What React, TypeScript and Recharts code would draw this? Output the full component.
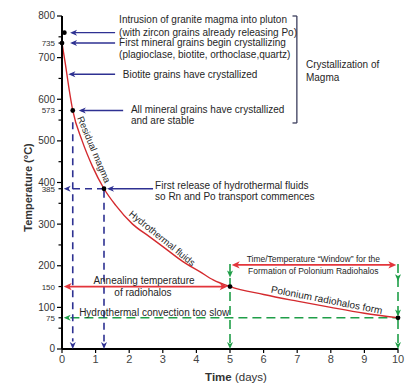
import { ComposedChart, Line, XAxis, YAxis, ReferenceLine, ReferenceDot, Label } from "recharts";

// cooling curve
const days = [0, 0.1, 0.2, 0.32, 0.6, 0.9, 1.25, 1.6, 2.1, 2.6, 3.1, 3.6, 4.1, 4.5, 5, 6, 7, 8, 9, 10];
const temps = [735, 685, 630, 573, 500, 440, 385, 345, 300, 270, 240, 210, 186, 166, 150, 131, 115, 100, 86, 75];

const dayTicks = [0, 1, 2, 3, 4, 5, 6, 7, 8, 9, 10];
const majorTemps = [0, 100, 200, 300, 400, 500, 600, 700, 800];
const minorTemps = [50, 150, 250, 350, 450, 550, 650, 750];
const markedTemps = [735, 573, 385, 150, 75];

// black dots on the curve / axis
const eventDays = [0.07, 0, 0.32, 1.25, 5, 10];
const eventTemps = [760, 735, 573, 385, 150, 75];

const NAVY = "#2e3192";
const RED = "#e3353b";
const CURVE = "#d42a2e";
const GREEN = "#1f9e48";
const INK = "#262626";
const FONT = "'Liberation Sans', Arial, sans-serif";

const curveData = days.map((t, i) => ({ t, temp: temps[i] }));
const yTicks = Array.from(new Set([...majorTemps, ...minorTemps, ...markedTemps])).sort((a, b) => a - b);

function TempTick(props: any) {
  const { x, y, payload } = props;
  const v = payload.value;
  const axisX = x + 7;
  const major = majorTemps.includes(v);
  const marked = markedTemps.includes(v);
  const len = major ? 5 : 3.5;
  return (
    <g>
      <line x1={axisX - len} x2={axisX} y1={y} y2={y} stroke="#000" strokeWidth={1.2} />
      {major && (
        <text x={x} y={y} dy={3.4} textAnchor="end" fontSize={10} fill="#333" fontFamily={FONT}>
          {v}
        </text>
      )}
      {marked && !major && (
        <text x={x} y={y} dy={v === 385 ? 3.6 : 3} textAnchor="end" fontSize={8} fill="#333" fontFamily={FONT}>
          {v}
        </text>
      )}
    </g>
  );
}

type Dir = "left" | "right" | "down";

const head = (dir: Dir, color: string, len = 7, half = 3) => (p: any) => {
  const { cx, cy } = p;
  const d = dir === "left" ? [-1, 0] : dir === "right" ? [1, 0] : [0, 1];
  const n = [-d[1], d[0]];
  const bx = cx - d[0] * len;
  const by = cy - d[1] * len;
  const nx = cx - d[0] * len * 0.72;
  const ny = cy - d[1] * len * 0.72;
  const pts = [
    [cx, cy],
    [bx + n[0] * half, by + n[1] * half],
    [nx, ny],
    [bx - n[0] * half, by - n[1] * half],
  ];
  return <polygon points={pts.map((q) => q.join(",")).join(" ")} fill={color} />;
};

const note =
  (text: string, opts: { anchor?: "start" | "middle" | "end"; size?: number; rotate?: number; color?: string } = {}) =>
  (p: any) => {
    const { anchor = "start", size = 10, rotate, color = INK } = opts;
    return (
      <text
        x={p.cx}
        y={p.cy}
        textAnchor={anchor}
        fontSize={size}
        fill={color}
        fontFamily={FONT}
        transform={rotate ? `rotate(${rotate} ${p.cx} ${p.cy})` : undefined}
      >
        {text}
      </text>
    );
  };

export default function App() {
  const notes: [number, number, string, any?][] = [
    [1.7, 783, "Intrusion of granite magma into pluton"],
    [1.7, 752, "(with zircon grains already releasing Po)"],
    [1.7, 727, "First mineral grains begin crystallizing"],
    [1.7, 698, "(plagioclase, biotite, orthoclase,quartz)"],
    [1.81, 650, "Biotite grains have crystallized"],
    [2.05, 567, "All mineral grains have crystallized"],
    [2.05, 540, "and are stable"],
    [2.77, 385, "First release of hydrothermal fluids"],
    [2.77, 357, "so Rn and Po transport commences"],
    [7.26, 674, "Crystallization of"],
    [7.26, 644, "Magma"],
    [7.48, 210, "Time/Temperature \u201cWindow\u201d for the", { anchor: "middle", size: 8.5 }],
    [7.48, 181, "Formation of Polonium Radiohalos", { anchor: "middle", size: 8.5 }],
    [2.44, 155, "Annealing temperature", { anchor: "middle" }],
    [2.41, 127, "of radiohalos", { anchor: "middle" }],
    [0.51, 80, "Hydrothermal convection too slow"],
    [0.86, 476, "Residual magma", { anchor: "middle", size: 9.5, rotate: 67 }],
    [2.92, 260, "Hydrothermal fluids", { anchor: "middle", size: 9.5, rotate: 39 }],
    [7.86, 110, "Polonium radiohalos form", { anchor: "middle", size: 10, rotate: 11 }],
  ];

  const navyShafts: [number, number, number, number][] = [
    [0.3, 760, 1.58, 760],
    [0.3, 735, 1.58, 735],
    [0.25, 660, 1.58, 660],
    [0.56, 573, 1.82, 573],
    [1.4, 385, 2.71, 385],
  ];
  const navyDashed: [number, number, number, number][] = [
    [0.32, 545, 0.32, 18],
    [1.25, 380, 1.25, 18],
    [1.25, 385, 0.2, 385],
  ];
  const redShafts: [number, number, number, number][] = [
    [0.2, 150, 4.8, 150],
    [5.2, 202, 9.8, 202],
  ];
  const greenDashed: [number, number, number, number][] = [
    [0.25, 75, 10, 75],
    [5, 204, 5, 0],
    [10, 204, 10, 0],
  ];
  const heads: [number, number, Dir, string][] = [
    [0.24, 760, "left", NAVY],
    [0.24, 735, "left", NAVY],
    [0.19, 660, "left", NAVY],
    [0.5, 573, "left", NAVY],
    [1.34, 385, "left", NAVY],
    [0.05, 385, "left", NAVY],
    [0.32, 0, "down", NAVY],
    [1.25, 0, "down", NAVY],
    [0.05, 150, "left", RED],
    [4.93, 150, "right", RED],
    [5.05, 202, "left", RED],
    [9.95, 202, "right", RED],
    [0.05, 75, "left", GREEN],
    [5, 172, "down", GREEN],
    [5, 0, "down", GREEN],
    [10, 163, "down", GREEN],
    [10, 78, "down", GREEN],
    [10, 0, "down", GREEN],
  ];

  return (
    <div style={{ position: "absolute", left: 0, top: 0, width: 406, height: 383, background: "#fff", fontFamily: FONT }}>
      <ComposedChart width={406} height={383} data={curveData} margin={{ top: 16, right: 8, bottom: 0, left: 0 }}>
        <XAxis
          type="number"
          dataKey="t"
          domain={[0, 10]}
          ticks={dayTicks}
          interval={0}
          height={34}
          tickSize={4}
          tickMargin={2}
          axisLine={{ stroke: "#000", strokeWidth: 2 }}
          tickLine={{ stroke: "#000", strokeWidth: 1.2 }}
          tick={{ fontSize: 11, fill: "#444", fontFamily: FONT }}
        >
          <Label
            content={(p: any) => {
              const vb = p.viewBox;
              return (
                <text x={vb.x + vb.width / 2 + 6} y={vb.y + 32} textAnchor="middle" fontSize={11.5} fill="#333" fontFamily={FONT}>
                  <tspan fontWeight="bold">Time</tspan> (days)
                </text>
              );
            }}
          />
        </XAxis>
        <YAxis
          type="number"
          domain={[0, 800]}
          ticks={yTicks}
          interval={0}
          width={62}
          tickSize={5}
          tickMargin={2}
          axisLine={{ stroke: "#000", strokeWidth: 2 }}
          tickLine={false}
          tick={<TempTick />}
        >
          <Label
            content={(p: any) => {
              const vb = p.viewBox;
              const x = vb.x + 32;
              const y = vb.y + vb.height / 2 + 5;
              return (
                <text x={x} y={y} textAnchor="middle" fontSize={11} fontWeight="bold" fill="#333" fontFamily={FONT} transform={`rotate(-90 ${x} ${y})`}>
                  Temperature (°C)
                </text>
              );
            }}
          />
        </YAxis>

        {/* bracket */}
        <ReferenceLine segment={[{ x: 6.99, y: 800 }, { x: 6.99, y: 543 }]} stroke="#3b3d5c" strokeWidth={1.3} ifOverflow="visible" />
        <ReferenceLine segment={[{ x: 6.86, y: 800 }, { x: 6.99, y: 800 }]} stroke="#3b3d5c" strokeWidth={1.3} ifOverflow="visible" />
        <ReferenceLine segment={[{ x: 6.86, y: 543 }, { x: 6.99, y: 543 }]} stroke="#3b3d5c" strokeWidth={1.3} ifOverflow="visible" />

        {greenDashed.map(([a, b, c, d], i) => (
          <ReferenceLine key={`g${i}`} segment={[{ x: a, y: b }, { x: c, y: d }]} stroke={GREEN} strokeWidth={1.6} strokeDasharray="9 5" ifOverflow="visible" />
        ))}
        {navyDashed.map(([a, b, c, d], i) => (
          <ReferenceLine key={`nd${i}`} segment={[{ x: a, y: b }, { x: c, y: d }]} stroke={NAVY} strokeWidth={1.6} strokeDasharray="7 5" ifOverflow="visible" />
        ))}
        {navyShafts.map(([a, b, c, d], i) => (
          <ReferenceLine key={`n${i}`} segment={[{ x: a, y: b }, { x: c, y: d }]} stroke={NAVY} strokeWidth={1.4} ifOverflow="visible" />
        ))}
        {redShafts.map(([a, b, c, d], i) => (
          <ReferenceLine key={`r${i}`} segment={[{ x: a, y: b }, { x: c, y: d }]} stroke={RED} strokeWidth={1.8} ifOverflow="visible" />
        ))}

        <Line type="monotone" dataKey="temp" stroke={CURVE} strokeWidth={1.4} dot={false} isAnimationActive={false} />

        {heads.map(([t, T, dir, color], i) => (
          <ReferenceDot key={`h${i}`} x={t} y={T} r={3} ifOverflow="visible" shape={head(dir, color, color === RED ? 8 : 7, color === RED ? 3.6 : 3)} />
        ))}
        {eventDays.map((t, i) => (
          <ReferenceDot key={`e${i}`} x={t} y={eventTemps[i]} r={2.4} fill="#000" stroke="none" ifOverflow="visible" />
        ))}
        {notes.map(([t, T, text, opts], i) => (
          <ReferenceDot key={`t${i}`} x={t} y={T} r={1} ifOverflow="visible" shape={note(text, opts)} />
        ))}
      </ComposedChart>
    </div>
  );
}
